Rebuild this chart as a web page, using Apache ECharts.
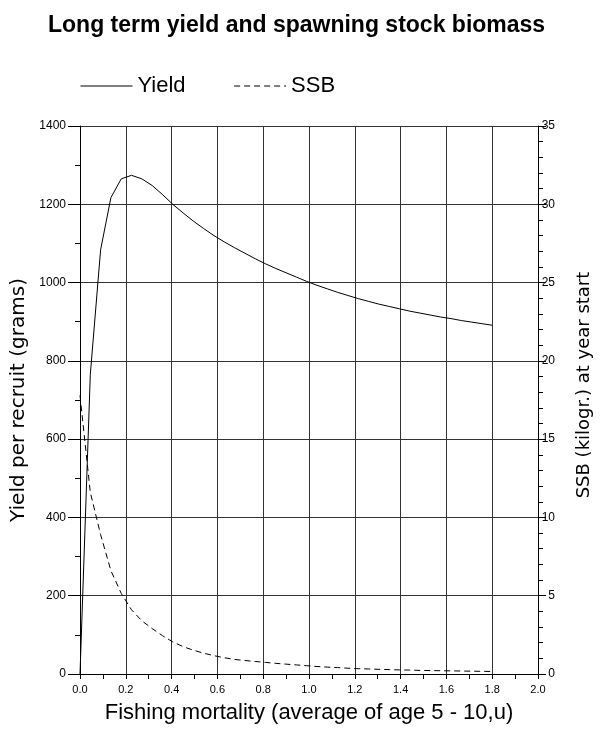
<!DOCTYPE html>
<html><head><meta charset="utf-8">
<script src="https://cdn.jsdelivr.net/npm/echarts@6/dist/echarts.min.js"></script>
<style>html,body{margin:0;padding:0;background:#fff;overflow:hidden}#c{width:601px;height:729px}</style>
</head><body><div id="c"></div>
<script>
const fishingMortality = [0,0.045,0.09,0.135,0.18,0.225,0.27,0.315,0.36,0.405,0.45,0.495,0.54,0.585,0.63,0.675,0.72,0.765,0.81,0.855,0.9,0.945,0.99,1.035,1.08,1.125,1.17,1.215,1.26,1.305,1.35,1.395,1.44,1.485,1.53,1.575,1.62,1.665,1.71,1.755,1.8];
const yieldValues = [0,765,1084,1217,1265,1274,1265,1248,1225,1200,1178,1157,1138,1120,1104,1089,1075,1061,1048,1036,1025,1014,1003,993,984,975,967,959,952,945,939,933,927,922,917,912,908,903,899,895,891];
const ssbValues = [17.8,11.6,8.9,6.6,5.15,4.1,3.4,2.9,2.45,2.05,1.75,1.52,1.33,1.17,1.04,0.93,0.86,0.8,0.74,0.68,0.63,0.58,0.53,0.48,0.44,0.41,0.37,0.34,0.32,0.3,0.28,0.26,0.25,0.23,0.22,0.21,0.2,0.19,0.18,0.17,0.16];
const seriesNames = ['Yield','SSB'];

const chart = echarts.init(document.getElementById('c'), null, {renderer:'canvas'});
const axisFont = 'Liberation Sans, Arial, sans-serif';
const nameFont = 'DejaVu Sans, sans-serif';
const gridColor = '#333';
chart.setOption({
  animation:false,
  backgroundColor:'#fff',
  title:{text:'Long term yield and spawning stock biomass', left:43, top:9,
    textStyle:{fontFamily:axisFont, fontWeight:'bold', fontSize:23, color:'#000'}},
  legend:{left:75, top:70, itemWidth:52, itemHeight:14, itemGap:48,
    itemStyle:{opacity:0},
    lineStyle:{width:1},
    textStyle:{fontFamily:axisFont, fontSize:22, color:'#000'},
    data:seriesNames},
  grid:{left:80, top:126, width:460, height:550, containLabel:false},
  xAxis:{type:'value', min:0, max:2, interval:0.2,
    name:'Fishing mortality (average of age 5 - 10,u)', nameLocation:'middle', nameGap:28,
    nameTextStyle:{fontFamily:axisFont, fontSize:22, color:'#000'},
    axisLine:{onZero:false, lineStyle:{color:'#000', width:1}},
    axisTick:{show:true, length:5, lineStyle:{color:'#000'}},
    minorTick:{show:true, splitNumber:2, length:5, lineStyle:{color:'#000'}},
    axisLabel:{fontFamily:axisFont, fontSize:11, color:'#000', margin:10, formatter:v=>v.toFixed(1)},
    splitLine:{show:true, lineStyle:{color:gridColor, width:1}}},
  yAxis:[
    {type:'value', min:0, max:1400, interval:200, position:'left',
     name:'Yield per recruit (grams)', nameLocation:'middle', nameGap:43,
     nameTextStyle:{fontFamily:nameFont, fontSize:20, color:'#000'},
     axisLine:{show:true, lineStyle:{color:'#000'}},
     axisTick:{show:true, length:12, lineStyle:{color:'#000'}},
     minorTick:{show:true, splitNumber:2, length:5, lineStyle:{color:'#000'}},
     axisLabel:{fontFamily:axisFont, fontSize:12, color:'#000', margin:14, formatter:v=>String(v)},
     splitLine:{show:true, lineStyle:{color:gridColor, width:1}}},
    {type:'value', min:0, max:35, interval:5, position:'right',
     name:'SSB (kilogr.) at year start', nameLocation:'middle', nameGap:37,
     nameTextStyle:{fontFamily:nameFont, fontSize:18, color:'#000', padding:[0,0,0,30]},
     axisLine:{show:true, lineStyle:{color:'#000'}},
     axisTick:{show:true, length:8, lineStyle:{color:'#000'}},
     minorTick:{show:true, splitNumber:5, length:5, lineStyle:{color:'#000'}},
     axisLabel:{fontFamily:axisFont, fontSize:12, color:'#000', margin:17, align:'right', formatter:v=>String(v)},
     splitLine:{show:false}}
  ],
  series:[
    {name:seriesNames[0], type:'line', yAxisIndex:0, symbol:'none', showSymbol:false, smooth:false,
     data:fishingMortality.map((f,i)=>[f,yieldValues[i]]),
     lineStyle:{color:'#000', width:1}, itemStyle:{color:'#000'}},
    {name:seriesNames[1], type:'line', yAxisIndex:1, symbol:'none', showSymbol:false, smooth:false,
     data:fishingMortality.map((f,i)=>[f,ssbValues[i]]),
     lineStyle:{color:'#000', width:1, type:[6,4]}, itemStyle:{color:'#000'}}
  ]
});
</script></body></html>
